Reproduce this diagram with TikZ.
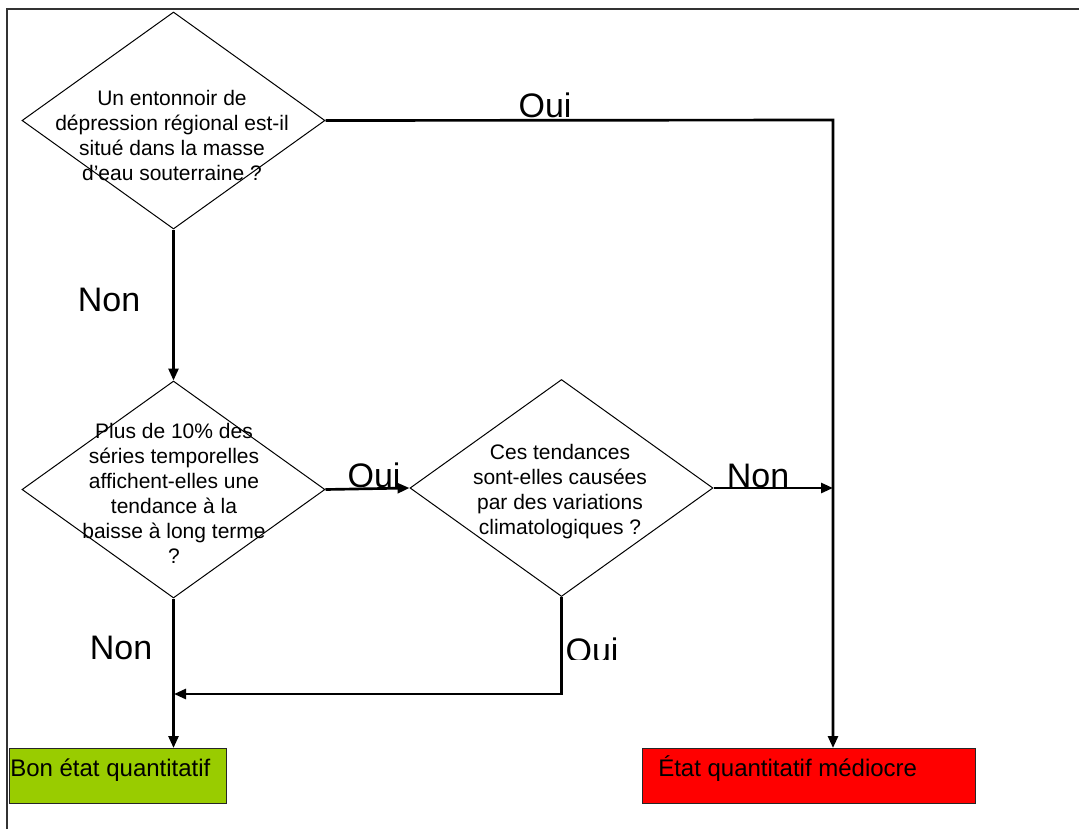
\documentclass[tikz,border=0pt]{standalone}
\usepackage{fontspec}
\setmainfont{Liberation Sans}
\usetikzlibrary{arrows.meta, shapes.geometric}
\definecolor{okGreen}{HTML}{99CC00}
\definecolor{badRed}{HTML}{FF0000}

\begin{document}
\begin{tikzpicture}[x=0.75pt, y=-0.75pt, >={Triangle[length=9pt, width=7.5pt]},
      decision/.style={diamond, draw, line width=0.75pt, inner sep=0pt,
        minimum width=227.25pt, minimum height=162.75pt},
      qtext/.style={align=center, inner sep=0pt,
        font=\fontsize{15.75}{18.75}\selectfont},
      flow/.style={draw, line width=2pt},
      ans/.style={inner sep=0pt, font=\fontsize{25.5}{30}\selectfont},
      result/.style={draw=black!85, line width=1.1pt, inner sep=0pt,
        minimum height=41.25pt, anchor=north west},
      restext/.style={inner sep=0pt, anchor=base west,
        font=\fontsize{18}{21}\selectfont}]
    \useasboundingbox (0,0) rectangle (1079,829);
    % page frame
    \draw[line width=1.5pt, black!80] (7,829) -- (7,9) -- (1079,9);
    % questions
    \node[decision] (q1) at (173.5,120.5) {};
    \node[qtext] (q1txt) at (172,135) {Un entonnoir de\\dépression régional est-il\\situé dans la masse\\d’eau souterraine ?};
    \node[decision] (q2) at (173.5,489.5) {};
    \node[qtext] (q2txt) at (174,493) {Plus de 10\% des\\séries temporelles\\affichent-elles une\\tendance à la\\baisse à long terme\\?};
    \node[decision] (q3) at (561.5,488) {};
    \node[qtext] (q3txt) at (560,492) {Ces tendances\\sont-elles causées\\par des variations\\climatologiques ?};
    % results
    \node[result, fill=okGreen, minimum width=162.75pt] (good) at (9,748) {};
    \node[restext] (goodtxt) at (10,776) {Bon état quantitatif};
    \node[result, fill=badRed, minimum width=249.75pt] (bad) at (642,748) {};
    \node[restext] (badtxt) at (658,776) {État quantitatif médiocre};
    % junctions
    \coordinate (c1) at (833,120);
    \coordinate (j1) at (833,488);
    \coordinate (j2) at (174,694);
    % connectors
    \draw[flow, ->] (q1.south) -- (q2.north);
    \draw[flow, ->] (q1.east) -- (c1) -- (c1 |- bad.north);
    \draw[flow, ->] (q2.east) -- (q3.west);
    \draw[flow, ->] (q3.east) -- (j1);
    \draw[flow, ->] (q3.south) -- (q3.south |- j2) -- (j2);
    \draw[flow, ->] (q2.south) -- (q2.south |- good.north);
    % answers
    \node[ans] (a1) at (545,105) {Oui};
    \node[ans] (a2) at (109,300) {Non};
    \node[ans] (a3) at (374,475) {Oui};
    \node[ans] (a4) at (758,476) {Non};
    \node[ans] (a5) at (121,648) {Non};
    \begin{scope}
      \clip (562,620) rectangle (640,659);
      \node[ans] (a6) at (592,650) {Oui};
    \end{scope}
  \end{tikzpicture}
\end{document}
